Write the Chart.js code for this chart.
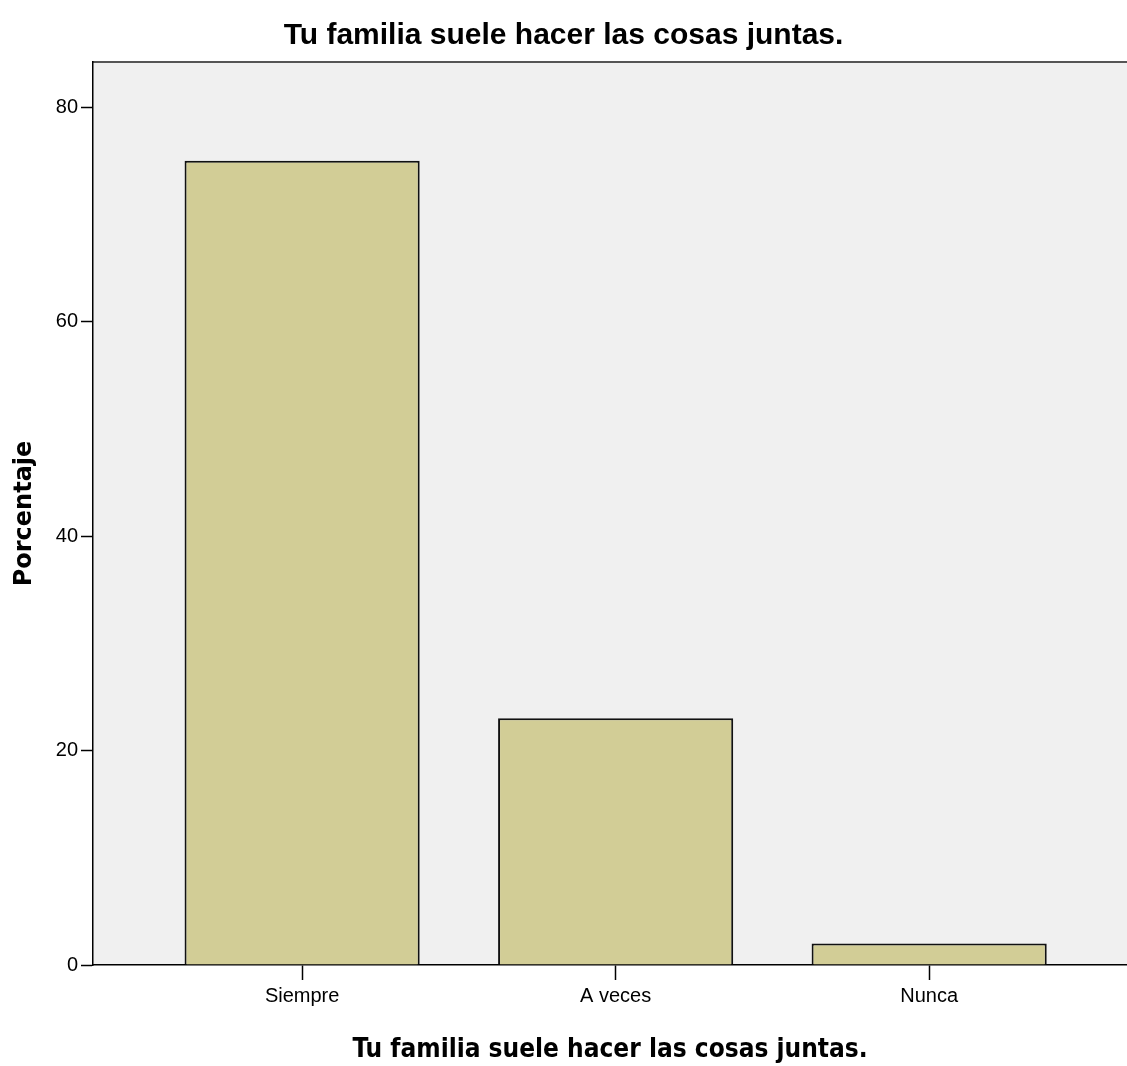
<!doctype html>
<html>

<head>
    <title>Tu familia suele hacer las cosas juntas.</title>
    <script src="https://cdn.jsdelivr.net/npm/chart.js@4/dist/chart.umd.min.js"></script>
    <style>
        body { margin: 0; background: #fff; }
    </style>
</head>

<body>
    <canvas id="chart-area" width="1127" height="1066"></canvas>
    <script>
    // datos
    var categories = ['Siempre', 'A veces', 'Nunca'];
    var percentages = [75, 23, 2];
    var yTicks = [0, 20, 40, 60, 80];
    var chartTitle = 'Tu familia suele hacer las cosas juntas.';
    var yTitle = 'Porcentaje';

    var narrow = "'Liberation Sans Narrow', 'Arial Narrow', 'Liberation Sans', sans-serif";

    // fondo gris del area y linea superior
    var plotBackground = {
        id: 'plotBackground',
        beforeDraw: function(chart) {
            var ctx = chart.ctx, a = chart.chartArea;
            ctx.save();
            ctx.fillStyle = '#f0f0f0';
            ctx.fillRect(a.left, a.top, a.right - a.left, a.bottom - a.top);
            ctx.strokeStyle = '#555';
            ctx.lineWidth = 2;
            ctx.beginPath();
            ctx.moveTo(a.left, a.top);
            ctx.lineTo(a.right, a.top);
            ctx.stroke();
            ctx.restore();
        }
    };

    var config = {
        type: 'bar',
        data: {
            datasets: [{
                data: categories.map(function(c, i) { return { x: i, y: percentages[i] }; }),
                backgroundColor: '#d2cd96',
                borderColor: '#111',
                borderWidth: 2,
                borderSkipped: 'bottom',
                barPercentage: 0.75,
                categoryPercentage: 1
            }]
        },
        options: {
            responsive: false,
            animation: false,
            layout: { padding: 0 },
            plugins: {
                legend: { display: false },
                tooltip: { enabled: false },
                title: {
                    display: true,
                    text: chartTitle,
                    color: '#000',
                    font: { family: narrow, size: 30, weight: 'bold', lineHeight: 1.2 },
                    padding: { top: 18, bottom: 8 }
                }
            },
            scales: {
                x: {
                    type: 'linear',
                    min: -0.667,
                    max: 2.631,
                    offset: false,
                    afterBuildTicks: function(scale) {
                        scale.ticks = categories.map(function(c, i) { return { value: i }; });
                    },
                    afterFit: function(scale) { scale.height = 101; },
                    grid: {
                        offset: false,
                        drawOnChartArea: false,
                        drawTicks: true,
                        tickLength: 15,
                        tickColor: '#000',
                        tickWidth: 1.5
                    },
                    border: { color: '#000', width: 1.5 },
                    ticks: {
                        color: '#000',
                        padding: 4,
                        maxRotation: 0,
                        font: { family: narrow, size: 20 },
                        callback: function(v) { return categories[v]; }
                    },
                    title: {
                        display: true,
                        text: chartTitle,
                        color: '#000',
                        font: { family: "'DejaVu Sans Condensed', 'DejaVu Sans', sans-serif", size: 26, weight: 'bold', lineHeight: 1.2 },
                        padding: { top: 0, bottom: 0 }
                    }
                },
                y: {
                    min: 0,
                    max: 84.2,
                    afterBuildTicks: function(scale) {
                        scale.ticks = yTicks.map(function(v) { return { value: v }; });
                    },
                    afterFit: function(scale) { scale.width = 93; },
                    grid: {
                        drawOnChartArea: false,
                        drawTicks: true,
                        tickLength: 12,
                        tickColor: '#000',
                        tickWidth: 1.5
                    },
                    border: { color: '#000', width: 1.5 },
                    ticks: {
                        color: '#000',
                        padding: 3,
                        font: { family: narrow, size: 20 }
                    },
                    title: {
                        display: true,
                        text: yTitle,
                        color: '#000',
                        font: { family: "'DejaVu Sans', sans-serif", size: 24, weight: 'bold', lineHeight: 1.2 },
                        padding: { top: 10, bottom: 0 }
                    }
                }
            }
        },
        plugins: [plotBackground]
    };

    window.onload = function() {
        var ctx = document.getElementById('chart-area').getContext('2d');
        window.myBar = new Chart(ctx, config);
    };
    </script>
</body>

</html>
